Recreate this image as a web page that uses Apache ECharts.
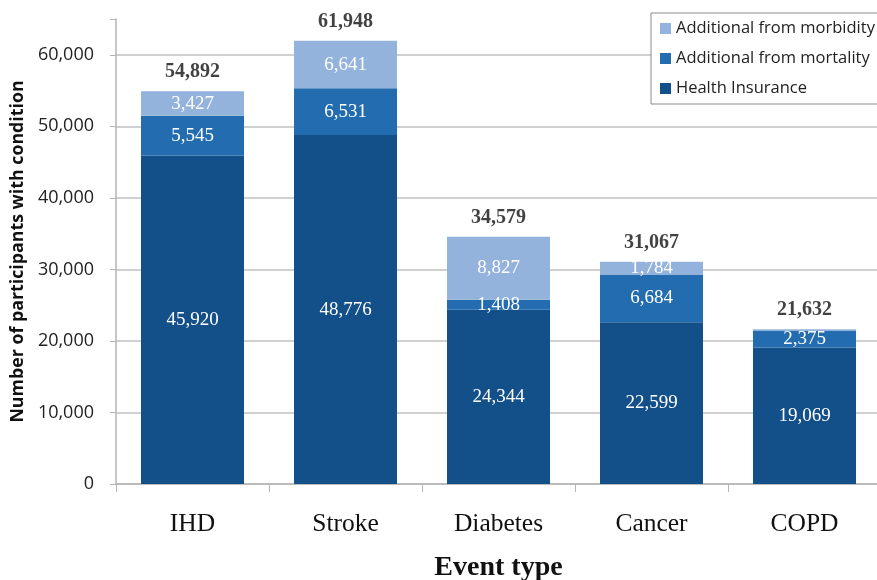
<!DOCTYPE html>
<html>
<head>
<meta charset="utf-8">
<script src="https://cdn.jsdelivr.net/npm/echarts@6/dist/echarts.min.js"></script>
<style>
html,body{margin:0;padding:0;background:#fff;}
#chart{width:877px;height:580px;}
</style>
</head>
<body>
<div id="chart"></div>
<script>
// Participants with each condition, split by data source
const categories = ['IHD', 'Stroke', 'Diabetes', 'Cancer', 'COPD'];
const healthInsurance = [45920, 48776, 24344, 22599, 19069];
const fromMortality = [5545, 6531, 1408, 6684, 2375];
const fromMorbidity = [3427, 6641, 8827, 1784, 188];
const yTicks = [0, 10000, 20000, 30000, 40000, 50000, 60000];

const totals = categories.map((_, i) => healthInsurance[i] + fromMortality[i] + fromMorbidity[i]);
const fmt = v => v.toLocaleString('en-US');

const serif = '"Liberation Serif", "Times New Roman", serif';
const sans = '"Open Sans", "Liberation Sans", sans-serif';

const insideLabel = {
  show: true,
  position: 'inside',
  color: '#ffffff',
  fontFamily: serif,
  fontSize: 19,
  formatter: p => (p.value >= 1000 ? fmt(p.value) : '')
};

const chart = echarts.init(document.getElementById('chart'));
chart.setOption({
  animation: false,
  backgroundColor: '#ffffff',
  grid: { left: 116, right: -4, top: 19, bottom: 96, containLabel: false, outerBoundsMode: 'none' },
  legend: {
    orient: 'vertical',
    left: 651,
    top: 13,
    data: ['Additional from morbidity', 'Additional from mortality', 'Health Insurance'],
    itemWidth: 11,
    itemHeight: 11,
    itemGap: 13,
    padding: [7, 12, 7, 9],
    borderColor: '#8c8c8c',
    borderWidth: 1,
    backgroundColor: '#ffffff',
    icon: 'rect',
    textStyle: { fontFamily: sans, fontSize: 16.5, color: '#222' }
  },
  xAxis: {
    type: 'category',
    data: categories,
    name: 'Event type',
    nameLocation: 'middle',
    nameGap: 70,
    nameTextStyle: { fontFamily: serif, fontSize: 28, fontWeight: 'bold', color: '#111' },
    axisLine: { lineStyle: { color: '#b5b5b5', width: 1.5 } },
    axisTick: { show: true, length: 8, alignWithLabel: false, lineStyle: { color: '#b5b5b5' } },
    axisLabel: { fontFamily: serif, fontSize: 25.5, color: '#111', margin: 27 }
  },
  yAxis: {
    type: 'value',
    min: 0,
    max: 65000,
    interval: 10000,
    name: 'Number of participants with condition',
    nameLocation: 'middle',
    nameGap: 86,
    nameTextStyle: { fontFamily: sans, fontSize: 17.8, fontWeight: 'bold', color: '#111' },
    axisLine: { show: true, lineStyle: { color: '#b5b5b5', width: 1.5 } },
    axisTick: { show: true, length: 6, lineStyle: { color: '#b5b5b5' } },
    axisLabel: {
      fontFamily: sans, fontSize: 18, color: '#222', margin: 22,
      formatter: v => (yTicks.includes(v) ? fmt(v) : '')
    },
    splitLine: {
      show: true,
      lineStyle: {
        color: ['#c0c0c0', '#c0c0c0', '#c0c0c0', '#c0c0c0', '#c0c0c0', '#c0c0c0', '#c0c0c0', 'rgba(0,0,0,0)'],
        width: 1.5
      }
    }
  },
  series: [
    {
      name: 'Health Insurance',
      type: 'bar',
      stack: 'total',
      barWidth: 103,
      data: healthInsurance,
      itemStyle: { color: '#134f88' },
      label: insideLabel
    },
    {
      name: 'Additional from mortality',
      type: 'bar',
      stack: 'total',
      barWidth: 103,
      data: fromMortality,
      itemStyle: { color: '#236caf' },
      label: insideLabel
    },
    {
      name: 'Additional from morbidity',
      type: 'bar',
      stack: 'total',
      barWidth: 103,
      data: fromMorbidity,
      itemStyle: { color: '#93b3dd' },
      label: insideLabel
    },
    {
      name: 'Total',
      type: 'scatter',
      data: totals,
      symbolSize: 0,
      silent: true,
      label: {
        show: true,
        position: 'top',
        distance: 9,
        fontFamily: serif,
        fontSize: 20,
        fontWeight: 'bold',
        color: '#111',
        formatter: p => fmt(p.value)
      }
    }
  ]
});
</script>
</body>
</html>
